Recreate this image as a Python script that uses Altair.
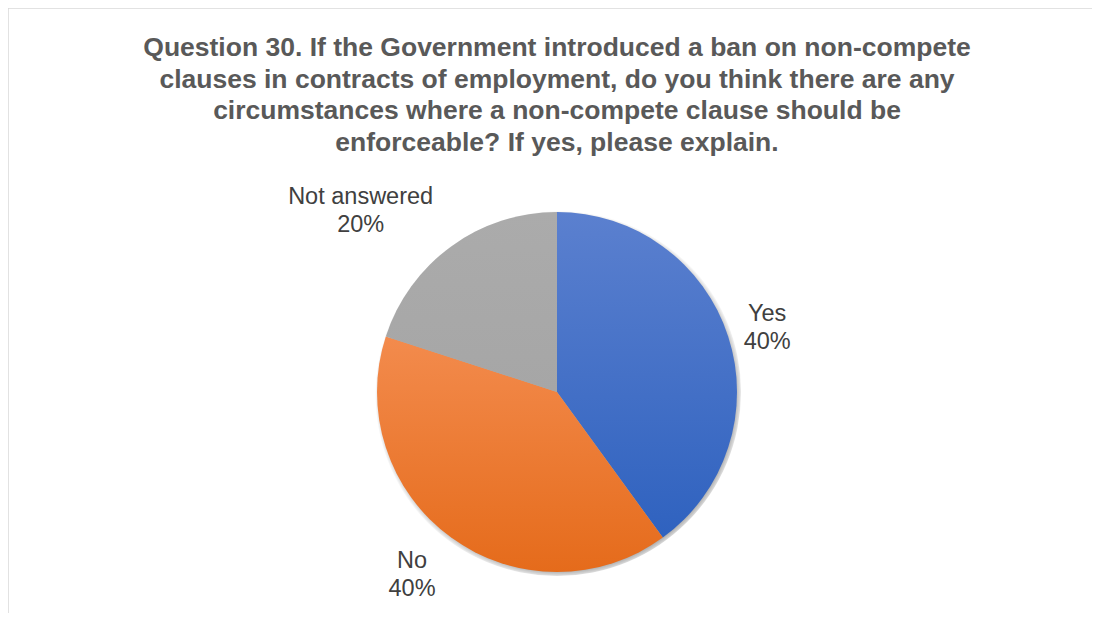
import altair as alt
import pandas as pd

title_lines = [
    "Question 30. If the Government introduced a ban on non-compete",
    "clauses in contracts of employment, do you think there are any",
    "circumstances where a non-compete clause should be",
    "enforceable? If yes, please explain.",
]
categories = ["Yes", "No", "Not answered"]
values = [40, 40, 20]

df = pd.DataFrame({"category": categories, "value": values})

FONT = "Liberation Sans"
theta_scale = alt.Scale(domain=[0, 1])

base = (
    alt.Chart(df)
    .transform_joinaggregate(total="sum(value)")
    .transform_window(cum="sum(value)", frame=[None, 0])
    .transform_calculate(
        f0="(datum.cum - datum.value) / datum.total",
        f1="datum.cum / datum.total",
        fm="(datum.cum - datum.value / 2) / datum.total",
        label="datum.category + '\\n' + format(datum.value / datum.total, '.0%')",
    )
)


def grad(top, bottom):
    return alt.Gradient(
        gradient="linear", x1=0, y1=0, x2=0, y2=1,
        stops=[alt.GradientStop(color=top, offset=0),
               alt.GradientStop(color=bottom, offset=1)],
    )


slice_style = {
    "Yes": ("#5b80cf", "#2f62bf"),
    "No": ("#f38b4d", "#e56b1b"),
    "Not answered": ("#ababab", "#a6a6a6"),
}
label_style = {
    "Yes": (221, 0, -10),
    "No": (233, -8, -20),
    "Not answered": (266, -40, 20),
}

shadow_fill = alt.Gradient(
    gradient="radial", x1=0.506, y1=0.508, r1=0.478, x2=0.506, y2=0.508, r2=0.5,
    stops=[alt.GradientStop(color="rgba(0,0,0,0.32)", offset=0),
           alt.GradientStop(color="rgba(0,0,0,0)", offset=1)],
)

layers = [
    alt.Chart(df)
    .transform_aggregate(total="sum(value)")
    .transform_calculate(whole="datum.total / datum.total")
    .mark_arc(radius=184, color=shadow_fill)
    .encode(theta=alt.Theta("whole:Q", scale=theta_scale))
]
for c in categories:
    layers.append(
        base.transform_filter(alt.datum.category == c)
        .mark_arc(radius=180, color=grad(*slice_style[c]))
        .encode(theta=alt.Theta("f0:Q", scale=theta_scale), theta2="f1:Q")
    )
for c in categories:
    r, dx, dy = label_style[c]
    layers.append(
        base.transform_filter(alt.datum.category == c)
        .mark_text(radius=r, dx=dx, dy=dy, font=FONT, fontSize=23.5, color="#404040",
                   lineBreak="\n", lineHeight=28.5, align="center", baseline="middle")
        .encode(theta=alt.Theta("fm:Q", scale=theta_scale), text="label:N")
    )

chart = (
    alt.layer(*layers)
    .properties(
        width=1098, height=768,
        autosize=alt.AutoSizeParams(type="none"),
        padding={"left": 0, "top": 0, "right": -14, "bottom": -163},
        view=alt.ViewBackground(stroke="#d9d9d9", strokeWidth=1.5,
                                strokeDash=[1098, 1866, 768]),
        title=alt.TitleParams(
            text=title_lines, font=FONT, fontSize=26.5, fontWeight="bold",
            color="#595959", lineHeight=31.5, anchor="middle", frame="group",
            offset=-148,
        ),
    )
    .configure_view(stroke="#d9d9d9", strokeWidth=1.5)
)

chart.save("out.html", embed_options={"renderer": "svg", "actions": False})
